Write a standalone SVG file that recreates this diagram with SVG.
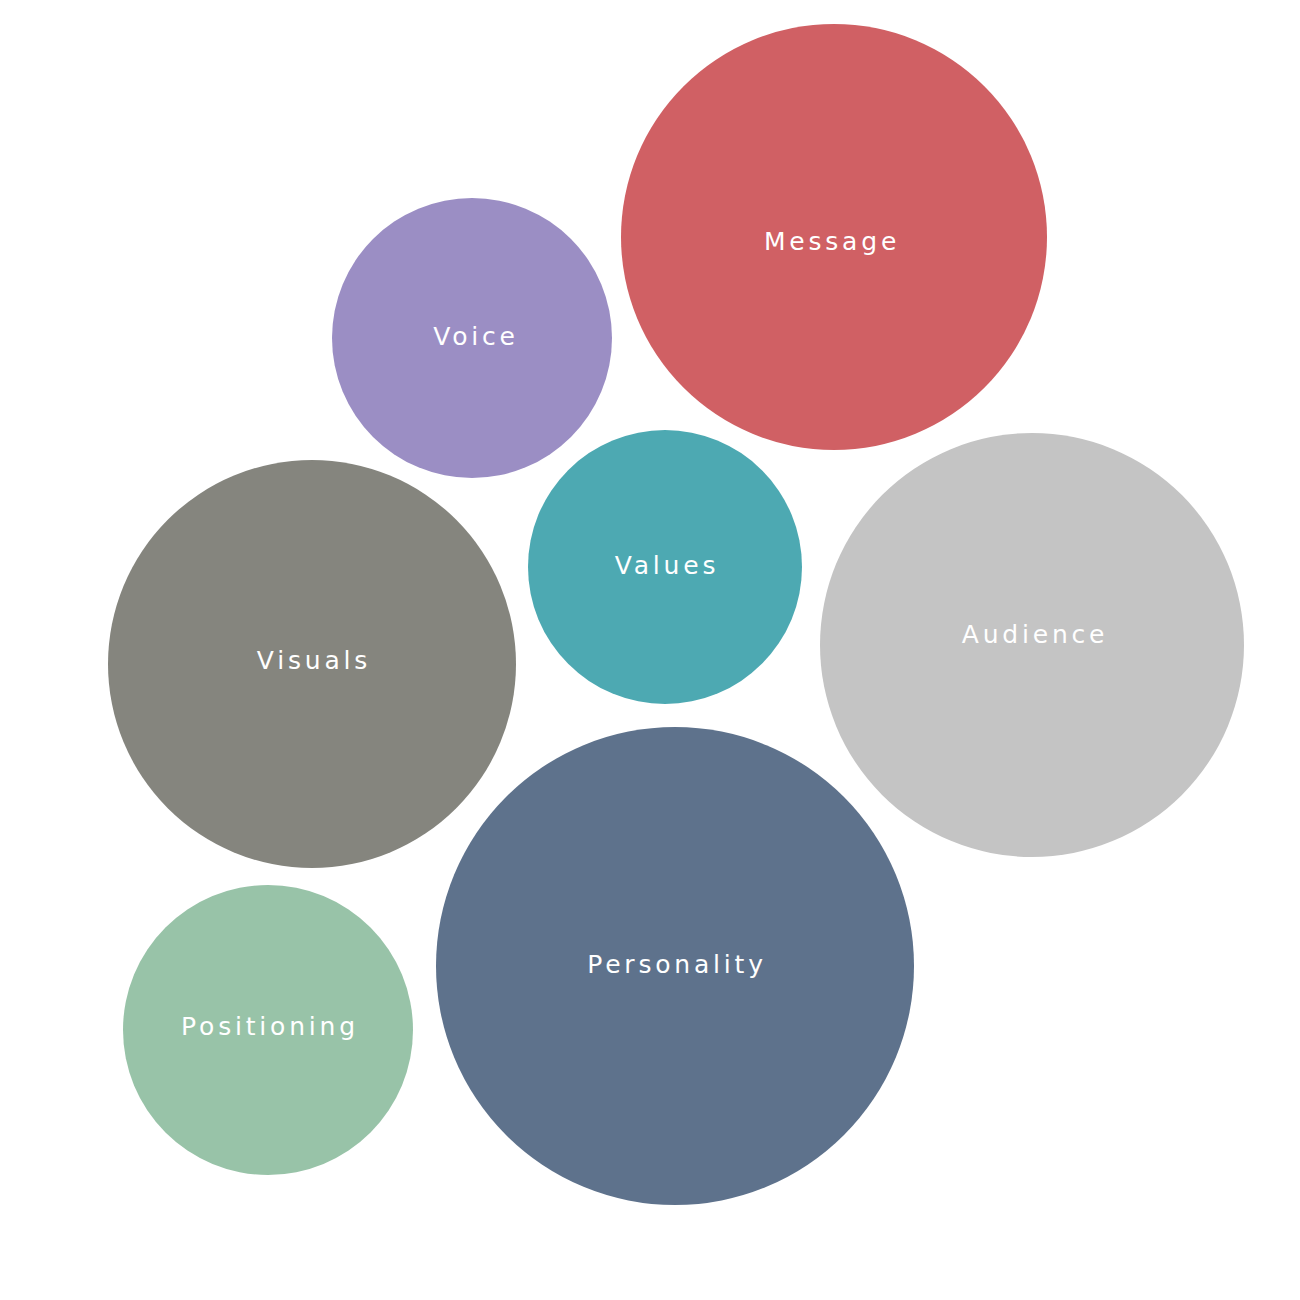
<svg xmlns="http://www.w3.org/2000/svg" width="1300" height="1300" viewBox="0 0 1300 1300">
<style>
.lbl{font-family:"DejaVu Sans","Noto Sans","Liberation Sans",sans-serif;font-size:25px;fill:#ffffff;text-anchor:middle;letter-spacing:3.8px}
</style>
<rect width="1300" height="1300" fill="#ffffff"/>
<g id="connectors"></g>
<g id="message"><circle cx="834" cy="237" r="213" fill="#D06064"/><text class="lbl" x="832" y="250">Message</text></g>
<g id="voice"><circle cx="472" cy="338" r="140" fill="#9B8EC4"/><text class="lbl" x="476" y="345">Voice</text></g>
<g id="values"><circle cx="665" cy="567" r="137" fill="#4DA9B2"/><text class="lbl" x="667" y="574">Values</text></g>
<g id="audience"><circle cx="1032" cy="645" r="212" fill="#C4C4C4"/><text class="lbl" x="1035" y="643">Audience</text></g>
<g id="visuals"><circle cx="312" cy="664" r="204" fill="#85857E"/><text class="lbl" x="314" y="669">Visuals</text></g>
<g id="personality"><circle cx="675" cy="966" r="239" fill="#5E728C"/><text class="lbl" x="677" y="973">Personality</text></g>
<g id="positioning"><circle cx="268" cy="1030" r="145" fill="#98C3A8"/><text class="lbl" x="270" y="1035">Positioning</text></g>
</svg>
